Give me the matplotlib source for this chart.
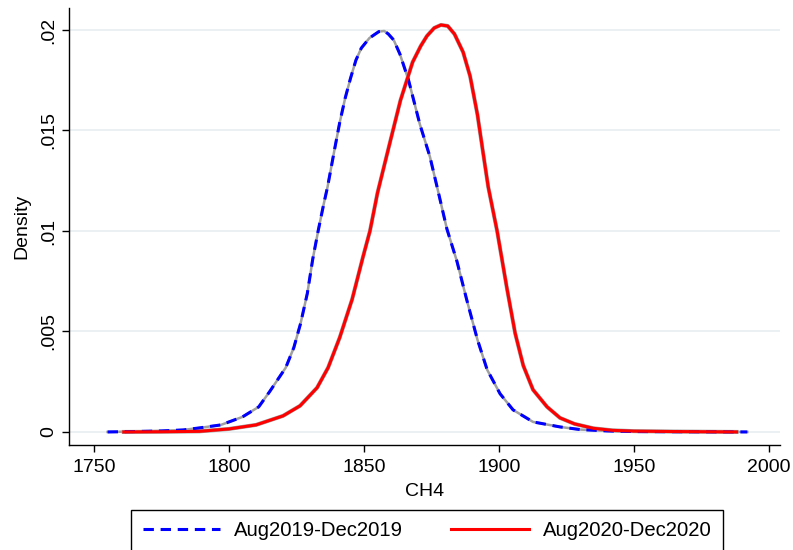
import matplotlib.pyplot as plt

plt.rcParams['font.family'] = ['Liberation Sans', 'DejaVu Sans']

# kernel density estimates
x_2019 = [1755, 1765, 1775, 1783, 1789, 1797, 1805, 1811, 1815, 1821, 1824, 1826.5,
          1829, 1831, 1833, 1835, 1836.5, 1839, 1841, 1843, 1845, 1847, 1849, 1852,
          1855.5, 1857.5, 1859, 1861, 1863.3, 1866.5, 1870.7, 1874.4, 1877.4, 1880.7,
          1884.4, 1888, 1892, 1895.6, 1900.4, 1905.2, 1912.6, 1922.6, 1930, 1940,
          1950, 1970, 1992]
d_2019 = [0.0, 0.00002, 0.00005, 0.0001, 0.0002, 0.00035, 0.00075, 0.00125, 0.002,
          0.0032, 0.0042, 0.0054, 0.0069, 0.0086, 0.01, 0.0113, 0.0122, 0.014, 0.0154,
          0.0166, 0.0176, 0.0185, 0.0191, 0.0196, 0.01992, 0.01995, 0.0198, 0.0195,
          0.0188, 0.0175, 0.0153, 0.0137, 0.012, 0.0101, 0.0085, 0.0066, 0.0046,
          0.0031, 0.0019, 0.0011, 0.0005, 0.00025, 0.00012, 0.00005, 0.00002,
          0.00001, 0.0]

x_2020 = [1761, 1775, 1789, 1800, 1810, 1820, 1826.3, 1832.6, 1836.7, 1841, 1845.6,
          1849.6, 1852.2, 1855, 1859.6, 1863.5, 1868, 1871, 1873.3, 1876, 1878.5,
          1881, 1883.5, 1886.7, 1889.3, 1892, 1894.1, 1896, 1899.3, 1903, 1906, 1909,
          1912.6, 1917.8, 1922.6, 1928, 1935, 1942, 1950, 1965, 1988]
d_2020 = [0.0, 0.00001, 0.00003, 0.00015, 0.00035, 0.0008, 0.0013, 0.0022, 0.0032,
          0.0047, 0.0066, 0.0087, 0.01, 0.0119, 0.0144, 0.0165, 0.0184, 0.0192, 0.0197,
          0.0201, 0.02025, 0.0202, 0.0198, 0.0189, 0.0177, 0.0158, 0.0139, 0.0122,
          0.01, 0.0071, 0.0049, 0.0033, 0.0021, 0.00125, 0.0007, 0.0004, 0.00018,
          0.00008, 0.00004, 0.00002, 0.0]

yticks = [0, 0.005, 0.01, 0.015, 0.02]
ytick_labels = ['0', '.005', '.01', '.015', '.02']
xticks = [1750, 1800, 1850, 1900, 1950, 2000]

fig = plt.figure(figsize=(7.93, 5.5), dpi=100)
ax = fig.add_axes([0.087, 0.191, 0.8966, 0.7945])

# grey band behind the curves (confidence interval look)
ax.plot(x_2019, d_2019, color='#a0a0a0', lw=1.8, zorder=2)
ax.plot(x_2020, d_2020, color='#a0a0a0', lw=2.9, zorder=2)

ax.plot(x_2019, d_2019, color='#0000ff', lw=2.2, linestyle=(0, (3.4, 2.2)),
        label='Aug2019-Dec2019', zorder=3)
ax.plot(x_2020, d_2020, color='#ff0000', lw=2.2, label='Aug2020-Dec2020', zorder=3)

ax.set_xlim(1740.7, 2004.1)
ax.set_ylim(-0.000647, 0.021095)
ax.set_xticks(xticks)
ax.set_yticks(yticks)
ax.set_yticklabels(ytick_labels, rotation=90, va='center')
ax.tick_params(labelsize=14, length=5, width=1, direction='out', color='black')
ax.tick_params(axis='x', pad=5)
ax.grid(axis='y', color='#e8eef0', lw=1.2)
ax.set_axisbelow(True)

for s in ['top', 'right']:
    ax.spines[s].set_visible(False)
for s in ['left', 'bottom']:
    ax.spines[s].set_linewidth(1)

ax.set_xlabel('CH4', fontsize=14, labelpad=5)
ax.set_ylabel('Density', fontsize=14, labelpad=7)

fig.legend(loc='center', bbox_to_anchor=(0.5385, 0.0355), ncol=2, fontsize=14.6,
           handlelength=3.8, handletextpad=0.7, columnspacing=2.4, borderpad=0.55,
           frameon=True, fancybox=False, edgecolor='black', framealpha=1)

fig.savefig('out.png', dpi=100)
